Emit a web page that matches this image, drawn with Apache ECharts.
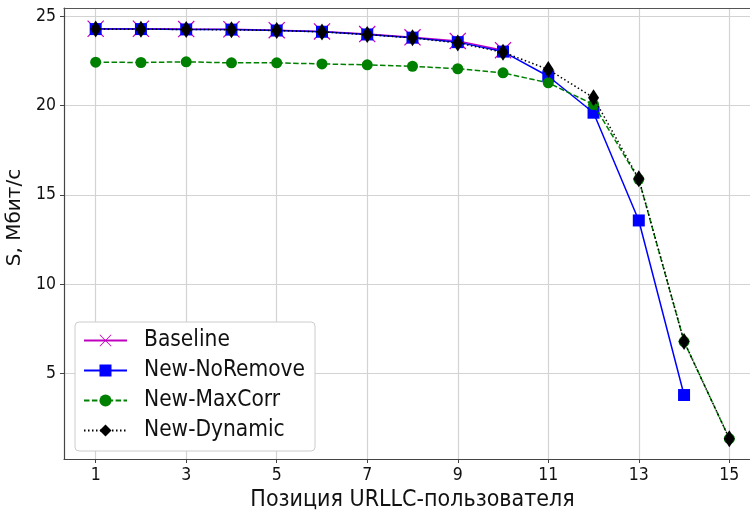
<!DOCTYPE html>
<html>
<head>
<meta charset="utf-8">
<script src="https://cdn.jsdelivr.net/npm/echarts@6/dist/echarts.min.js"></script>
<style>
  html, body { margin: 0; padding: 0; background: #fff; }
  #chart { width: 750px; height: 510px; }
</style>
</head>
<body>
<div id="chart"></div>
<script>
// data
var positions = [1, 2, 3, 4, 5, 6, 7, 8, 9, 10, 11, 12, 13, 14, 15]
var baseline = [24.3, 24.3, 24.28, 24.27, 24.22, 24.15, 24.0, 23.82, 23.62, 23.1]
var newNoRemove = [24.28, 24.28, 24.26, 24.25, 24.2, 24.13, 23.98, 23.8, 23.55, 23.02, 21.64, 19.6, 13.57, 3.8]
var newMaxCorr = [22.43, 22.41, 22.45, 22.39, 22.39, 22.33, 22.28, 22.2, 22.06, 21.83, 21.27, 20.06, 15.87, 6.79, 1.36]
var newDynamic = [24.28, 24.27, 24.26, 24.24, 24.2, 24.12, 23.97, 23.79, 23.5, 22.99, 22.02, 20.44, 15.9, 6.8, 1.36]
var xTicks = [1, 3, 5, 7, 9, 11, 13, 15]
var yTicks = [5, 10, 15, 20, 25]

var FONT = "'DejaVu Sans Condensed', 'DejaVu Sans', sans-serif"
var xMark = 'path://M0,1L1,0L10,9L19,0L20,1L11,10L20,19L19,20L10,11L1,20L0,19L9,10Z'

function pairs (vals) {
  return vals.map(function (v, i) { return [positions[i], v] })
}

var chart = echarts.init(document.getElementById('chart'))

var axisCommon = {
  axisLine: { show: true, lineStyle: { color: '#444', width: 1.2 } },
  axisTick: { show: true, length: 4, lineStyle: { color: '#444', width: 1 } },
  splitLine: { show: true, lineStyle: { color: '#d3d3d3', width: 1.2 } },
  axisLabel: { color: '#111', fontSize: 17.5, fontFamily: FONT }
}

var option = {
  animation: false,
  grid: {
    left: 64, right: -11, top: 8, bottom: 51,
    outerBoundsMode: 'none',
    containLabel: false,
    show: false
  },
  legend: {
    orient: 'vertical',
    left: 75, top: 322,
    itemWidth: 43, itemHeight: 15, itemGap: 7,
    padding: [7, 10, 9, 8],
    backgroundColor: '#fff',
    borderColor: '#cccccc', borderWidth: 1, borderRadius: 4,
    textStyle: { fontSize: 22.5, fontFamily: FONT, color: '#111', padding: [0, 0, 0, 12] },
    data: ['Baseline', 'New-NoRemove', 'New-MaxCorr', 'New-Dynamic']
  },
  xAxis: [
    Object.assign({}, axisCommon, {
      type: 'value', min: 0.3, max: 15.7,
      axisTick: Object.assign({}, axisCommon.axisTick, { customValues: xTicks }),
      axisLabel: Object.assign({}, axisCommon.axisLabel, { customValues: xTicks, margin: 7 }),
      name: 'Позиция URLLC-пользователя',
      nameLocation: 'middle', nameGap: 21,
      nameTextStyle: { fontSize: 23, fontFamily: FONT, color: '#111' }
    }),
    {
      // top spine only
      type: 'value', position: 'top', min: 0.3, max: 15.7,
      axisLine: { show: true, onZero: false, lineStyle: { color: '#555', width: 1.2 } },
      axisTick: { show: false }, axisLabel: { show: false }, splitLine: { show: false }
    }
  ],
  yAxis: Object.assign({}, axisCommon, {
    type: 'value', min: 0.22, max: 25.46,
    axisTick: Object.assign({}, axisCommon.axisTick, { customValues: yTicks }),
    axisLabel: Object.assign({}, axisCommon.axisLabel, { customValues: yTicks, margin: 8 }),
    name: 'S, Мбит/с',
    nameLocation: 'middle', nameGap: 28,
    nameTextStyle: { fontSize: 20, fontFamily: "'DejaVu Sans', sans-serif", color: '#111', padding: [0, 0, 0, 32] }
  }),
  series: [
    {
      name: 'Baseline', type: 'line', data: pairs(baseline),
      symbol: xMark, symbolSize: 17,
      lineStyle: { color: '#bf00bf', width: 1.5 },
      itemStyle: { color: '#bf00bf' },
      z: 2
    },
    {
      name: 'New-NoRemove', type: 'line', data: pairs(newNoRemove),
      symbol: 'rect', symbolSize: 12,
      lineStyle: { color: '#0000ff', width: 1.5 },
      itemStyle: { color: '#0000ff' },
      z: 3
    },
    {
      name: 'New-MaxCorr', type: 'line', data: pairs(newMaxCorr),
      symbol: 'circle', symbolSize: 11,
      lineStyle: { color: '#008000', width: 1.5, type: [5.5, 2.4] },
      itemStyle: { color: '#008000' },
      z: 4
    },
    {
      name: 'New-Dynamic', type: 'line', data: pairs(newDynamic),
      symbol: 'diamond', symbolSize: [11, 17],
      lineStyle: { color: '#000', width: 1.5, type: [1.5, 2.5] },
      itemStyle: { color: '#000' },
      z: 5
    }
  ]
}

chart.setOption(option)
</script>
</body>
</html>
